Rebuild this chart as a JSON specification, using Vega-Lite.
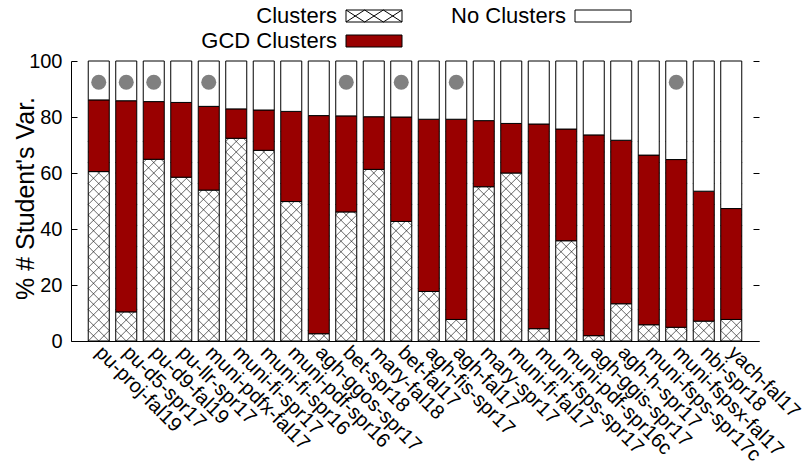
{
  "$schema": "https://vega.github.io/schema/vega-lite/v6.json",
  "width": 688,
  "height": 280,
  "autosize": {"type": "none"},
  "padding": {"left": 71, "top": 61, "right": 46, "bottom": 131},
  "config": {
    "view": {"stroke": null},
    "font": "Liberation Sans",
    "axis": {
      "grid": false,
      "domainColor": "black",
      "domainWidth": 1,
      "tickColor": "black",
      "tickWidth": 1,
      "labelColor": "black",
      "labelFont": "Liberation Sans",
      "titleColor": "black",
      "titleFont": "Liberation Sans",
      "titleFontWeight": "normal"
    }
  },
  "data": {
    "values": [
      {"name": "pu-proj-fal19", "clusters": 60.5, "gcd": 25.6, "none": 13.9, "flag": true},
      {"name": "pu-d5-spr17", "clusters": 10.4, "gcd": 75.4, "none": 14.2, "flag": true},
      {"name": "pu-d9-fal19", "clusters": 64.9, "gcd": 20.6, "none": 14.5, "flag": true},
      {"name": "pu-llr-spr17", "clusters": 58.5, "gcd": 26.7, "none": 14.8, "flag": false},
      {"name": "muni-pdfx-fal17", "clusters": 53.9, "gcd": 29.9, "none": 16.2, "flag": true},
      {"name": "muni-fi-spr17", "clusters": 72.4, "gcd": 10.5, "none": 17.1, "flag": false},
      {"name": "muni-fi-spr16", "clusters": 68.1, "gcd": 14.4, "none": 17.5, "flag": false},
      {"name": "muni-pdf-spr16", "clusters": 49.8, "gcd": 32.2, "none": 18.0, "flag": false},
      {"name": "agh-ggos-spr17", "clusters": 2.6, "gcd": 77.9, "none": 19.5, "flag": false},
      {"name": "bet-spr18", "clusters": 46.1, "gcd": 34.3, "none": 19.6, "flag": true},
      {"name": "mary-fal18", "clusters": 61.3, "gcd": 18.8, "none": 19.9, "flag": false},
      {"name": "bet-fal17", "clusters": 42.7, "gcd": 37.3, "none": 20.0, "flag": true},
      {"name": "agh-fis-spr17", "clusters": 17.7, "gcd": 61.5, "none": 20.8, "flag": false},
      {"name": "agh-fal17", "clusters": 7.7, "gcd": 71.5, "none": 20.8, "flag": true},
      {"name": "mary-spr17", "clusters": 55.1, "gcd": 23.6, "none": 21.3, "flag": false},
      {"name": "muni-fi-fal17", "clusters": 60.0, "gcd": 17.7, "none": 22.3, "flag": false},
      {"name": "muni-fsps-spr17", "clusters": 4.4, "gcd": 73.1, "none": 22.5, "flag": false},
      {"name": "muni-pdf-spr16c", "clusters": 35.8, "gcd": 39.9, "none": 24.3, "flag": false},
      {"name": "agh-ggis-spr17", "clusters": 1.9, "gcd": 71.7, "none": 26.4, "flag": false},
      {"name": "agh-h-spr17", "clusters": 13.3, "gcd": 58.4, "none": 28.3, "flag": false},
      {"name": "muni-fsps-spr17c", "clusters": 5.8, "gcd": 60.6, "none": 33.6, "flag": false},
      {"name": "muni-fspsx-fal17", "clusters": 4.9, "gcd": 59.9, "none": 35.2, "flag": true},
      {"name": "nbi-spr18", "clusters": 7.1, "gcd": 46.4, "none": 46.5, "flag": false},
      {"name": "yach-fal17", "clusters": 7.7, "gcd": 39.6, "none": 52.7, "flag": false}
    ]
  },
  "resolve": {"axis": {"y": "independent"}},
  "layer": [
    {
      "description": "Cross-hatch texture: a 21x210 px lattice symbol standing on the baseline of each bar; the opaque upper segments hide it above the Clusters share",
      "mark": {
        "type": "point",
        "shape": "M0,105L10.5,94.5L-10.5,73.5L10.5,52.5L-10.5,31.5L10.5,10.5L-10.5,-10.5L10.5,-31.5L-10.5,-52.5L10.5,-73.5L-10.5,-94.5L0,-105M0,105L-10.5,94.5L10.5,73.5L-10.5,52.5L10.5,31.5L-10.5,10.5L10.5,-10.5L-10.5,-31.5L10.5,-52.5L-10.5,-73.5L10.5,-94.5L0,-105M-10.5,105L10.5,84L-10.5,63L10.5,42L-10.5,21L10.5,0L-10.5,-21L10.5,-42L-10.5,-63L10.5,-84L-10.5,-105M10.5,105L-10.5,84L10.5,63L-10.5,42L10.5,21L-10.5,0L10.5,-21L-10.5,-42L10.5,-63L-10.5,-84L10.5,-105",
        "size": 4,
        "filled": false,
        "color": "black",
        "strokeWidth": 0.6,
        "opacity": 1
      },
      "encoding": {
        "x": {
          "field": "name",
          "type": "nominal",
          "sort": null,
          "scale": {"paddingInner": 0.236, "paddingOuter": 0.627},
          "axis": {
            "title": null,
            "ticks": false,
            "labelAngle": 45,
            "labelAlign": "left",
            "labelBaseline": "middle",
            "labelFontSize": 20,
            "labelPadding": 8,
            "labelLimit": 0
          }
        },
        "y": {
          "datum": 37.5,
          "type": "quantitative",
          "scale": {"domain": [0, 100]},
          "axis": {
            "orient": "right",
            "title": null,
            "labels": false,
            "domain": false,
            "values": [0, 20, 40, 60, 80, 100],
            "tickSize": -6
          }
        }
      }
    },
    {
      "transform": [{"fold": ["clusters", "gcd", "none"], "as": ["key", "value"]}],
      "mark": {"type": "bar", "stroke": "black", "strokeWidth": 1},
      "encoding": {
        "x": {"field": "name", "type": "nominal", "sort": null},
        "y": {
          "field": "value",
          "type": "quantitative",
          "stack": "zero",
          "axis": {
            "orient": "left",
            "title": "% # Student's Var.",
            "titleFontSize": 25,
            "titleX": -33,
            "titleY": 137,
            "values": [0, 20, 40, 60, 80, 100],
            "tickSize": -6,
            "labelFontSize": 20,
            "labelPadding": 15
          }
        },
        "order": {"field": "key", "type": "nominal", "sort": "ascending"},
        "color": {
          "field": "key",
          "type": "nominal",
          "scale": {"domain": ["clusters", "none", "gcd"], "range": ["transparent", "white", "#990000"]},
          "legend": {
            "orient": "none",
            "legendX": 292,
            "legendY": -56,
            "direction": "horizontal",
            "columns": 2,
            "title": null,
            "padding": 0,
            "columnPadding": 47,
            "rowPadding": 3,
            "symbolType": "M-2.8,-0.6H2.8V0.6H-2.8Z",
            "symbolSize": 400,
            "symbolStrokeColor": "black",
            "symbolStrokeWidth": 1,
            "symbolOpacity": 1,
            "labelFont": "Liberation Sans",
            "labelFontSize": 22,
            "labelColor": "black",
            "labelAlign": "right",
            "labelOffset": -48,
            "labelLimit": 0,
            "labelExpr": "datum.label == 'clusters' ? '\u00a0\u00a0\u00a0\u00a0\u00a0\u00a0\u00a0\u00a0\u00a0Clusters' : datum.label == 'gcd' ? 'GCD Clusters' : 'No Clusters'",
            "encode": {
              "symbols": {
                "update": {
                  "shape": [
                    {"test": "datum.value === 'clusters'", "value": "M-2.8,-0.6H2.8V0.6H-2.8Z M-2.8,-0.6L-0.933,0.6L0.933,-0.6L2.8,0.6 M-2.8,0.6L-0.933,-0.6L0.933,0.6L2.8,-0.6"},
                    {"value": "M-2.8,-0.6H2.8V0.6H-2.8Z"}
                  ]
                }
              }
            }
          }
        }
      }
    },
    {
      "transform": [{"filter": "datum.flag"}],
      "mark": {"type": "point", "shape": "circle", "filled": true, "color": "#808080", "opacity": 1, "size": 225},
      "encoding": {
        "x": {"field": "name", "type": "nominal", "sort": null},
        "y": {"datum": 92.4, "type": "quantitative", "axis": null}
      }
    }
  ]
}
